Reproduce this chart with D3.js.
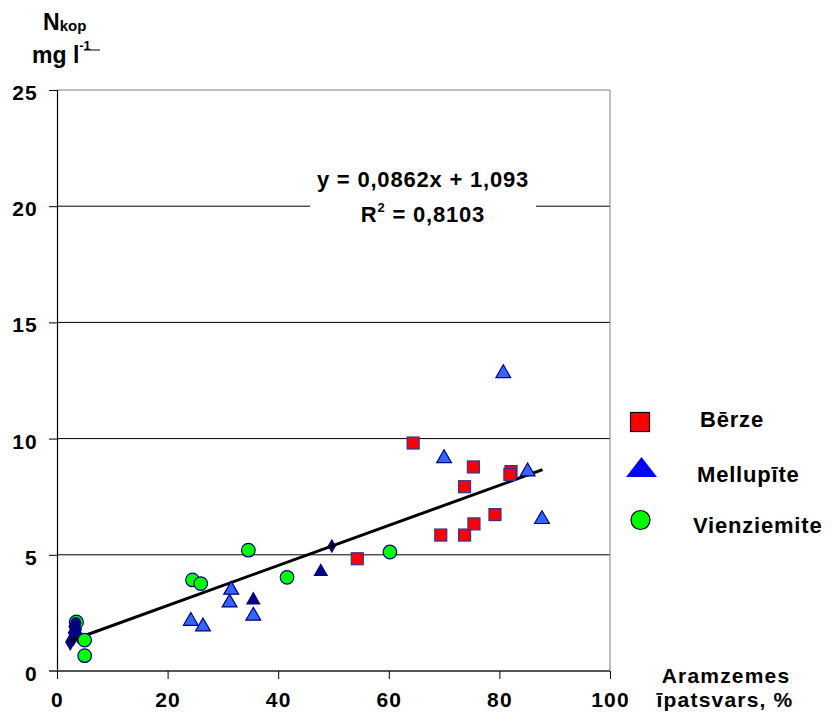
<!DOCTYPE html>
<html>
<head>
<meta charset="utf-8">
<script src="https://cdn.jsdelivr.net/npm/d3@7/dist/d3.min.js"></script>
<style>
  html, body { margin: 0; padding: 0; background: #fff; }
  svg text { font-family: "Liberation Sans", Arial, sans-serif; font-weight: bold; fill: #000; }
</style>
</head>
<body>
<svg id="chart" width="832" height="722"></svg>
<script>
// Axis ticks
const xTicks = [0, 20, 40, 60, 80, 100];
const yTicks = [0, 5, 10, 15, 20, 25];

// Bērze (red squares): [arable share %, N total mg/l]
const berze = [
  [54.3, 4.83], [64.4, 9.81], [69.4, 5.85], [73.7, 5.85], [73.7, 7.93],
  [75.3, 8.78], [75.4, 6.33], [79.2, 6.73], [82.1, 8.58], [81.9, 8.46]
];
// Mellupīte (blue triangles)
const mellupite = [
  [24.2, 2.15], [26.4, 1.91], [31.2, 2.94], [31.5, 3.49], [35.5, 2.37],
  [70.0, 9.15], [80.7, 12.81], [85.1, 8.58], [87.7, 6.53]
];
// Vienziemite (green circles)
const vienziemite = [
  [3.5, 2.10], [5.0, 1.33], [5.0, 0.66], [24.5, 3.92], [26.0, 3.76],
  [34.6, 5.20], [41.6, 4.03], [60.2, 5.12]
];
// Dark navy markers of the combined series
const navyTriangles = [[35.5, 3.05], [47.7, 4.27]];
const navyDiamonds = [
  [2.4, 1.25], [3.0, 1.45], [3.8, 1.55], [2.9, 1.65], [3.6, 1.80], [3.0, 1.90], [49.7, 5.38]
];
const navyCircles = [[3.4, 2.08]];

// Linear trend fitted over all stations
const trend = { slope: 0.0862, intercept: 1.093, r2: "0,8103", xMin: 2.3, xMax: 87.8 };
const equationText = "y = 0,0862x + 1,093";

const legendItems = [
  { name: "Bērze", shape: "square", fill: "#ff0000" },
  { name: "Mellupīte", shape: "triangle", fill: "#0000ff" },
  { name: "Vienziemite", shape: "circle", fill: "#00ff00" }
];

const svg = d3.select("#chart");
const x = d3.scaleLinear().domain([0, 100]).range([57, 610]);
const y = d3.scaleLinear().domain([0, 25]).range([671, 90]);

// Horizontal gridlines
svg.append("g").selectAll("line")
  .data(yTicks.filter(d => d > 0 && d < 25))
  .join("line")
  .attr("x1", x(0)).attr("x2", x(100))
  .attr("y1", d => y(d)).attr("y2", d => y(d))
  .attr("stroke", "#000").attr("stroke-width", 1);

// Plot frame (top and right)
svg.append("line").attr("x1", x(0)).attr("x2", x(100)).attr("y1", y(25)).attr("y2", y(25))
  .attr("stroke", "#808080").attr("stroke-width", 1);
svg.append("line").attr("x1", x(100)).attr("x2", x(100)).attr("y1", y(25)).attr("y2", y(0))
  .attr("stroke", "#808080").attr("stroke-width", 1);

// Y axis
const yAxis = svg.append("g").attr("transform", `translate(${x(0)},0)`)
  .call(d3.axisLeft(y).tickValues(yTicks).tickSize(8).tickPadding(11).tickFormat(d3.format("d")));
yAxis.select(".domain").attr("stroke", "#000").attr("stroke-width", 1.2);
yAxis.selectAll(".tick line").attr("stroke", "#000");
yAxis.selectAll(".tick text").attr("font-size", 21).attr("letter-spacing", 1.2)
  .attr("dy", "0.45em").style("font-family", "'Liberation Sans', Arial, sans-serif").style("font-weight", "bold");

// X axis
const xAxis = svg.append("g").attr("transform", `translate(0,${y(0)})`)
  .call(d3.axisBottom(x).tickValues(xTicks).tickSize(8).tickFormat(d3.format("d")));
xAxis.select(".domain").attr("stroke", "#555").attr("stroke-width", 2.2)
  .attr("d", `M${x(0) - 8},0H${x(100)}`);
xAxis.selectAll(".tick line").attr("stroke", "#000");
xAxis.selectAll(".tick text").attr("font-size", 21).attr("letter-spacing", 1.2)
  .attr("y", 36).attr("dy", 0)
  .style("font-family", "'Liberation Sans', Arial, sans-serif").style("font-weight", "bold");

// Y axis title
const yTitle = svg.append("g");
yTitle.append("text").attr("x", 43).attr("y", 30).attr("font-size", 23)
  .text("N").append("tspan").attr("font-size", 15).attr("dy", 1).text("kop");
const unit = yTitle.append("text").attr("x", 32).attr("y", 63).attr("font-size", 23).text("mg l");
unit.append("tspan").attr("font-size", 13).attr("dy", -13).text("-1");
yTitle.append("line").attr("x1", 84).attr("x2", 100).attr("y1", 50).attr("y2", 50)
  .attr("stroke", "#000").attr("stroke-width", 1);

// X axis title
svg.append("text").attr("x", 726).attr("y", 683).attr("text-anchor", "middle")
  .attr("font-size", 21).attr("letter-spacing", 1.2).text("Aramzemes");
svg.append("text").attr("x", 725).attr("y", 707).attr("text-anchor", "middle")
  .attr("font-size", 21).attr("letter-spacing", 1.2).text("īpatsvars, %");

// Symbols
const triSym = d3.symbol().type(d3.symbolTriangle);
const diaSym = d3.symbol().type(d3.symbolDiamond);
const navy = "#000080";

const back = svg.append("g");

// Green marker at the left with a navy circle drawn over it
back.selectAll(".vz-under").data(vienziemite.slice(0, 1)).join("circle")
  .attr("cx", d => x(d[0])).attr("cy", d => y(d[1])).attr("r", 7)
  .attr("fill", "#00ff00").attr("stroke", navy).attr("stroke-width", 1.2);

back.selectAll(".nd").data(navyDiamonds).join("path")
  .attr("transform", d => `translate(${x(d[0])},${y(d[1])})`)
  .attr("d", (d, i) => diaSym.size(i === navyDiamonds.length - 1 ? 60 : 95)()).attr("fill", navy);

back.selectAll(".nc").data(navyCircles).join("circle")
  .attr("cx", d => x(d[0])).attr("cy", d => y(d[1])).attr("r", 5.6)
  .attr("fill", navy);

// Regression line
svg.append("line")
  .attr("x1", x(trend.xMin)).attr("y1", y(trend.slope * trend.xMin + trend.intercept))
  .attr("x2", x(trend.xMax)).attr("y2", y(trend.slope * trend.xMax + trend.intercept))
  .attr("stroke", "#000").attr("stroke-width", 3);

const front = svg.append("g");
front.selectAll(".vz").data(vienziemite.slice(1)).join("circle")
  .attr("cx", d => x(d[0])).attr("cy", d => y(d[1])).attr("r", 6.8)
  .attr("fill", "#00ff00").attr("stroke", navy).attr("stroke-width", 1.2);

front.selectAll(".ml").data(mellupite).join("path")
  .attr("transform", d => `translate(${x(d[0])},${y(d[1])})`)
  .attr("d", triSym.size(95)()).attr("fill", "#3366ff").attr("stroke", navy).attr("stroke-width", 1.2);

front.selectAll(".nt").data(navyTriangles).join("path")
  .attr("transform", d => `translate(${x(d[0])},${y(d[1])})`)
  .attr("d", triSym.size(95)()).attr("fill", navy);

front.selectAll(".bz").data(berze).join("rect")
  .attr("x", d => x(d[0]) - 6).attr("y", d => y(d[1]) - 6)
  .attr("width", 12).attr("height", 12)
  .attr("fill", "#ff0000").attr("stroke", "#333399").attr("stroke-width", 1.2);

// Equation label with white box over the gridline
svg.append("rect").attr("x", 310).attr("y", 158).attr("width", 226).attr("height", 72).attr("fill", "#fff");
svg.append("text").attr("x", 423).attr("y", 187).attr("text-anchor", "middle")
  .attr("font-size", 22).attr("letter-spacing", 0.8).text(equationText);
const r2 = svg.append("text").attr("x", 423).attr("y", 222).attr("text-anchor", "middle")
  .attr("font-size", 22).attr("letter-spacing", 0.8);
r2.append("tspan").text("R");
r2.append("tspan").attr("font-size", 13).attr("dy", -10).text("2");
r2.append("tspan").attr("dy", 10).text(" = " + trend.r2);

// Legend
const legend = svg.append("g");
const rowY = [422, 470, 520];
const textPos = [[700, 427], [697, 482], [693, 533]];
legendItems.forEach((item, i) => {
  const cy = rowY[i];
  if (item.shape === "square") {
    legend.append("rect").attr("x", 630.5).attr("y", cy - 9.5).attr("width", 19).attr("height", 19)
      .attr("fill", item.fill).attr("stroke", "#000").attr("stroke-width", 1.2);
  } else if (item.shape === "triangle") {
    legend.append("path").attr("d", `M641.5,${cy - 13}L657,${cy + 7}L626,${cy + 7}Z`).attr("fill", item.fill);
  } else {
    legend.append("circle").attr("cx", 640.5).attr("cy", cy).attr("r", 9.5)
      .attr("fill", item.fill).attr("stroke", "#000").attr("stroke-width", 1.2);
  }
  legend.append("text").attr("x", textPos[i][0]).attr("y", textPos[i][1])
    .attr("font-size", 22).attr("letter-spacing", 0.8).text(item.name);
});
</script>
</body>
</html>
